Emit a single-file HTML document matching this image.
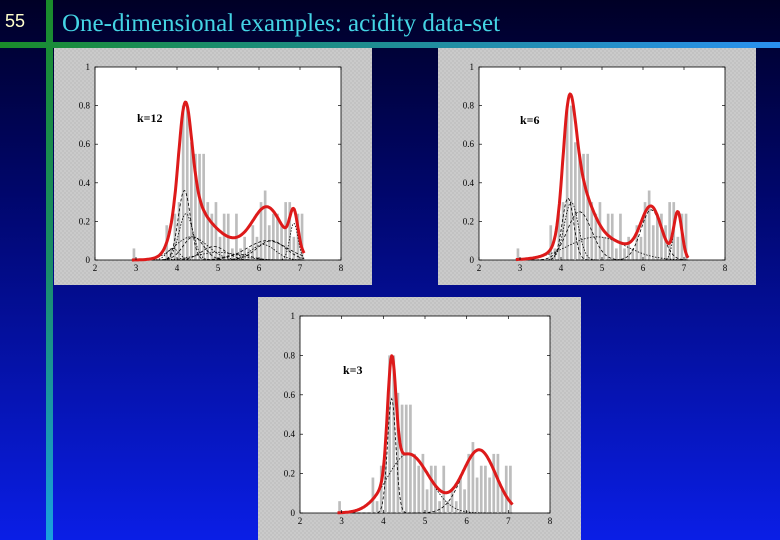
<!DOCTYPE html>
<html><head><meta charset="utf-8"><style>
html,body{margin:0;padding:0;width:780px;height:540px;overflow:hidden;background:#000}
svg{display:block}
</style></head><body>
<svg id="s" width="780" height="540" viewBox="0 0 780 540" xmlns="http://www.w3.org/2000/svg">
<defs>
<linearGradient id="bg" x1="0" y1="0" x2="0" y2="1"><stop offset="0" stop-color="#000026"/><stop offset="0.35" stop-color="#00066a"/><stop offset="1" stop-color="#0a1ee6"/></linearGradient>
<linearGradient id="vb" x1="0" y1="0" x2="0" y2="1"><stop offset="0" stop-color="#1a8c2a"/><stop offset="0.5" stop-color="#1a8c6a"/><stop offset="1" stop-color="#1aa0e0"/></linearGradient>
<linearGradient id="hb" x1="0" y1="0" x2="1" y2="0"><stop offset="0" stop-color="#1a8c2a"/><stop offset="0.3" stop-color="#1a8c70"/><stop offset="1" stop-color="#2a90f0"/></linearGradient>
<pattern id="chk" width="4" height="4" patternUnits="userSpaceOnUse"><rect width="4" height="4" fill="#cacaca"/><rect width="2" height="2" fill="#c2c2c2"/><rect x="2" y="2" width="2" height="2" fill="#c2c2c2"/></pattern>
</defs>
<rect width="780" height="540" fill="url(#bg)"/>
<rect x="46" y="0" width="7" height="540" fill="url(#vb)"/>
<rect x="0" y="42" width="780" height="6" fill="url(#hb)"/>
<text x="5" y="27" font-family="Liberation Sans, sans-serif" font-size="18" fill="#ffffcc">55</text>
<text x="62" y="31" font-family="Liberation Serif, serif" font-size="25" fill="#44d4e4">One-dimensional examples: acidity data-set</text>
<g id="charts"></g>
</svg>
<script>
// histogram: bin centers and heights (shared across the three panels)
const binCenters=[2.95,3.05,3.15,3.25,3.35,3.45,3.55,3.65,3.75,3.85,3.95,4.05,4.15,4.25,4.35,4.45,4.55,4.65,4.75,4.85,4.95,5.05,5.15,5.25,5.35,5.45,5.55,5.65,5.75,5.85,5.95,6.05,6.15,6.25,6.35,6.45,6.55,6.65,6.75,6.85,6.95,7.05];
const binHeights=[0.06,0,0,0,0,0,0,0,0.18,0.06,0.24,0.30,0.80,0.80,0.61,0.55,0.55,0.55,0.30,0.24,0.30,0.12,0.24,0.24,0.06,0.24,0.06,0.12,0.06,0.18,0.12,0.30,0.36,0.18,0.24,0.24,0.18,0.30,0.30,0.12,0.24,0.24];
const xTicks=[2,3,4,5,6,7,8];
const yTicks=[0,0.2,0.4,0.6,0.8,1];
const yTickLabels=["0","0.2","0.4","0.6","0.8","1"];
// mixture components: [amplitude, mean, sd]
const comps12=[[0.36,4.18,0.15],[0.24,4.22,0.17],[0.12,4.4,0.25],[0.12,4.35,0.4],[0.07,4.9,0.3],[0.04,5.0,0.5],[0.03,5.5,0.3],[0.08,6.1,0.3],[0.1,6.3,0.35],[0.19,6.85,0.1],[0.1,6.2,0.5],[0.06,3.9,0.15]];
const comps6=[[0.32,4.17,0.14],[0.3,4.25,0.17],[0.25,4.45,0.3],[0.12,4.87,0.7],[0.26,6.2,0.25],[0.24,6.85,0.1]];
const comps3=[[0.58,4.2,0.1],[0.3,4.6,0.5],[0.32,6.3,0.4]];

const NS="http://www.w3.org/2000/svg";
const root=document.getElementById('charts');
function mk(tag,attrs,parent){const e=document.createElementNS(NS,tag);for(const k in attrs)e.setAttribute(k,attrs[k]);(parent||root).appendChild(e);return e;}
function gauss(c,x){return c[0]*Math.exp(-((x-c[1])**2)/(2*c[2]*c[2]));}
function chart(name,panel,plot,comps,label,lpos){
  const g=mk('g',{});
  
  
  const pr=mk('rect',{x:panel[0],y:panel[1],width:panel[2],height:panel[3],fill:'url(#chk)'},g);
  
  
  const [x0,y0,x1,y1]=plot;
  const sx=v=>x0+(v-2)/6*(x1-x0), sy=v=>y1-v*(y1-y0);
  const area=mk('rect',{x:x0,y:y0,width:x1-x0,height:y1-y0,fill:'#fff',stroke:'#000','stroke-width':0.8},g);
  
  
  const bw=(sx(2.1)-sx(2))*0.65;
  binCenters.forEach((c,i)=>{if(binHeights[i]<=0)return;
    const b=mk('rect',{x:sx(c)-bw/2,y:sy(binHeights[i]),width:bw,height:sy(0)-sy(binHeights[i]),fill:'#bdbdbd'},g);
    
    });
  comps.forEach((c,i)=>{let d='';for(let x=2.9;x<=7.1001;x+=0.02){d+=(d?'L':'M')+sx(x).toFixed(1)+','+sy(gauss(c,x)).toFixed(1);}
    const p=mk('path',{d:d,fill:'none',stroke:'#000','stroke-width':0.8,'stroke-dasharray':i%2?'1.5,1.5':'3,2'},g);
    
    });
  let d='';for(let x=2.9;x<=7.1001;x+=0.02){let s=0;comps.forEach(c=>s+=gauss(c,x));d+=(d?'L':'M')+sx(x).toFixed(1)+','+sy(s).toFixed(1);}
  const m=mk('path',{d:d,fill:'none',stroke:'#dd1a1a','stroke-width':3,'stroke-linejoin':'round'},g);
  
  
  xTicks.forEach(t=>{mk('line',{x1:sx(t),x2:sx(t),y1:y1,y2:y1-3,stroke:'#000','stroke-width':0.7},g);mk('line',{x1:sx(t),x2:sx(t),y1:y0,y2:y0+3,stroke:'#000','stroke-width':0.7},g);
    const tx=mk('text',{x:sx(t),y:y1+11,'font-family':'Liberation Serif, serif','font-size':9,'text-anchor':'middle',fill:'#000'},g);tx.textContent=t;
    
    });
  yTicks.forEach((t,i)=>{mk('line',{x1:x0,x2:x0+3,y1:sy(t),y2:sy(t),stroke:'#000','stroke-width':0.7},g);mk('line',{x1:x1,x2:x1-3,y1:sy(t),y2:sy(t),stroke:'#000','stroke-width':0.7},g);
    const tx=mk('text',{x:x0-5,y:sy(t)+3,'font-family':'Liberation Serif, serif','font-size':9,'text-anchor':'end',fill:'#000'},g);tx.textContent=yTickLabels[i];
    
    });
  const lt=mk('text',{x:lpos[0],y:lpos[1],'font-family':'Liberation Serif, serif','font-size':12,'font-weight':'bold',fill:'#000'},g);lt.textContent=label;
  
  
}
chart('chart-k12',[54,48,318,237],[95,67,341,260],comps12,'k=12',[137,122]);
chart('chart-k6',[438,48,318,237],[479,67,725,260],comps6,'k=6',[520,124]);
chart('chart-k3',[258,297,323,243],[300,316,550,513],comps3,'k=3',[343,374]);
</script>
</body></html>
